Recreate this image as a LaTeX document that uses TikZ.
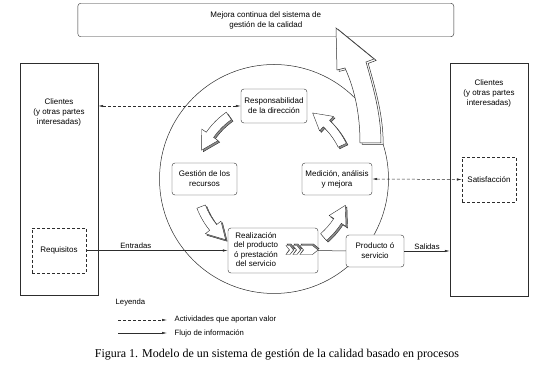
\documentclass[tikz,border=0pt]{standalone}
\usepackage{fontspec}
\setmainfont{Liberation Serif}
\setsansfont{Liberation Sans}
\usetikzlibrary{positioning, arrows.meta, calc}
\definecolor{ink}{RGB}{45,45,45}
\definecolor{shade}{RGB}{140,140,140}

% curved block arrow on the ring, from angle #1 to angle #2
\newcommand{\ringpath}[2]{%
  (#1:72.5) arc[start angle=#1, end angle=#2-13, radius=72.5]
  -- (#2-13:67) -- (#2:77) -- (#2-13:87) -- (#2-13:81.5)
  arc[start angle=#2-13, end angle=#1, radius=81.5] -- cycle}

\begin{document}
\begin{tikzpicture}[
  x=1pt, y=1pt,
  >={Latex[length=5pt,width=2.4pt]},
  proc/.style={draw=ink, fill=white, rounded corners=3pt, inner sep=1pt,
               font=\sffamily\fontsize{8}{10}\selectfont, align=center},
  party/.style={draw=ink, fill=white, minimum width=78pt, minimum height=232pt},
  dbox/.style={draw=ink, fill=white, dash pattern=on 3pt off 2pt, inner sep=0pt,
               minimum width=54pt, minimum height=45pt,
               font=\sffamily\fontsize{8}{10}\selectfont},
  txt/.style={font=\sffamily\fontsize{8}{10}\selectfont, align=center, inner sep=0pt},
  lab/.style={font=\sffamily\fontsize{7.7}{9}\selectfont, inner sep=1.5pt},
  flow/.style={draw=ink, line width=0.5pt},
  val/.style={flow, dash pattern=on 3pt off 2pt}]

  \useasboundingbox (0,0) rectangle (538,-379);

  % ciclo
  \draw[ink, line width=0.5pt] (274,-179) circle[radius=114.5];

  \node[proc, minimum width=376pt, minimum height=33.5pt] (mejora) at (265.8,-20)
    {Mejora continua del sistema de\\gestión de la calidad};

  \node[party] (cliIzq) at (59,-179.5) {};
  \node[party, minimum height=233pt] (cliDer) at (489,-179.5) {};
  \node[txt] (cliIzqTxt) at (59,-112) {Clientes\\(y otras partes\\interesadas)};
  \node[txt] (cliDerTxt) at (489,-93) {Clientes\\(y otras partes\\interesadas)};
  \node[dbox] (requisitos) at (59,-250.5) {Requisitos};
  \node[dbox] (satisf) at (489,-179.5) {Satisfacción};

  \node[proc, minimum width=66pt, minimum height=34pt] (resp) at (274,-106)
    {Responsabilidad\\de la dirección};
  \node[proc, minimum width=65pt, minimum height=32pt] (gestion) at (204.5,-179)
    {Gestión de los\\recursos};
  \node[proc, minimum width=70pt, minimum height=32pt] (medicion) at (337,-179)
    {Medición, análisis\\y mejora};
  \node[proc, minimum width=90pt, minimum height=45pt] (realiz) at (273,-250.5) {};
  \node[txt, font=\sffamily\fontsize{8}{9.6}\selectfont] (realizTxt) at (256,-249.5)
    {Realización\\del producto\\ó prestación\\del servicio};
  \node[proc, minimum width=58pt, minimum height=32pt] (producto) at (375,-251)
    {Producto ó\\servicio};

  % flujos
  \draw[val, <->] (resp.west -| cliIzq.east) -- (resp.west);
  \draw[val, <->] (medicion.east) -- (satisf.west);
  \draw[flow, ->] (requisitos.east) -- node[lab, above, pos=0.35] (entradas) {Entradas} (realiz.west);
  \draw[flow] (realiz.east) -- (producto.west);
  \draw[flow, ->] (producto.east) -- node[lab, above] (salidas) {Salidas} (producto.east -| cliDer.west);

  % flechas del ciclo
  \begin{scope}[shift={(273,-179)}, line width=0.4pt]
    \foreach \a/\b in {125/158, 201/232, 311/340, 26/59} {
      \draw[ink, fill=shade, shift={(1.6,-1.6)}] \ringpath{\a}{\b};
      \draw[ink, fill=white] \ringpath{\a}{\b};
    }
  \end{scope}

  % mejora continua
  \draw[ink, fill=white, line width=0.5pt, shift={(2.2,-1.4)}]
    (336,-28) -- (374,-59) -- (366,-62) .. controls (374,-90) and (381,-115) .. (381,-143)
    -- (360,-143) .. controls (360,-115) and (355,-90) .. (345,-68) -- (337,-70) -- cycle;
  \draw[ink, fill=white, line width=0.5pt]
    (336,-28) -- (374,-59) -- (366,-62) .. controls (374,-90) and (381,-115) .. (381,-143)
    -- (360,-143) .. controls (360,-115) and (355,-90) .. (345,-68) -- (337,-70) -- cycle;

  % simbolo de proceso
  \begin{scope}[line width=0.4pt]
    \foreach \x in {286,293} {
      \draw[ink, fill=shade, shift={(1,1.5)}] (\x,-245.5) -- (\x+4,-245.5) -- (\x+7.5,-250)
        -- (\x+4,-254.5) -- (\x,-254.5) -- (\x+3.5,-250) -- cycle;
      \draw[ink, fill=white] (\x,-245.5) -- (\x+4,-245.5) -- (\x+7.5,-250)
        -- (\x+4,-254.5) -- (\x,-254.5) -- (\x+3.5,-250) -- cycle;
    }
    \draw[ink, fill=shade, shift={(1,1.5)}] (300,-245.5) -- (312.5,-245.5) -- (318,-250)
      -- (312.5,-254.5) -- (300,-254.5) -- (303.5,-250) -- cycle;
    \draw[ink, fill=white] (300,-245.5) -- (312.5,-245.5) -- (318,-250)
      -- (312.5,-254.5) -- (300,-254.5) -- (303.5,-250) -- cycle;
  \end{scope}

  % leyenda
  \node[lab, anchor=west] (leyenda) at (114,-303) {Leyenda};
  \coordinate (v0) at (118,-320);
  \coordinate (v1) at (167,-320);
  \draw[val, ->] (v0) -- (v1);
  \node[lab, anchor=west] (valTxt) at (173,-320) {Actividades que aportan valor};
  \coordinate (f0) at (118,-333);
  \coordinate (f1) at (167,-333);
  \draw[flow, ->] (f0) -- (f1);
  \node[lab, anchor=west] (flujoTxt) at (173,-333) {Flujo de información};

  \node[font=\fontsize{12}{14}\selectfont, inner sep=0pt] (caption) at (277,-355)
    {Figura 1. Modelo de un sistema de gestión de la calidad basado en procesos};
\end{tikzpicture}
\end{document}
